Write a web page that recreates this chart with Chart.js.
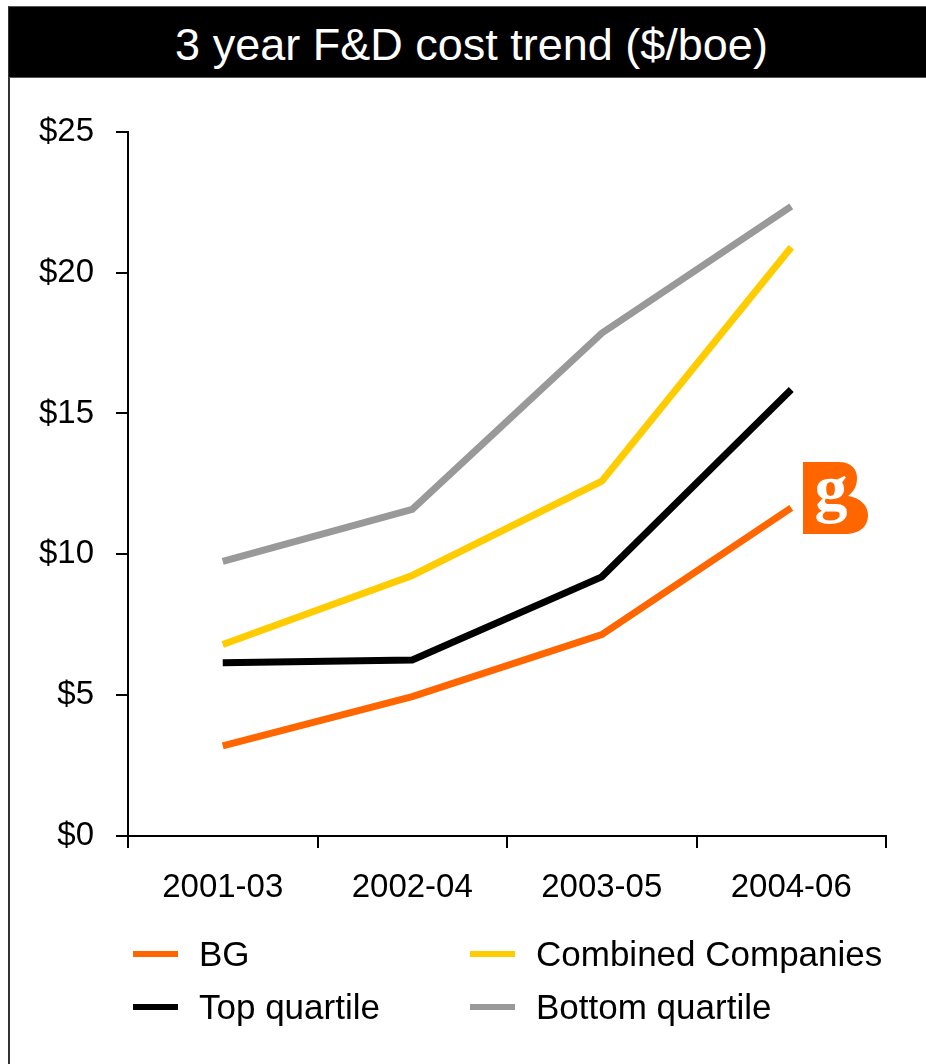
<!DOCTYPE html>
<html>
<head>
<meta charset="utf-8">
<script src="https://cdn.jsdelivr.net/npm/chart.js@4.4.1/dist/chart.umd.min.js"></script>
<style>
  html,body{margin:0;padding:0;background:#fff;}
  #page{position:relative;width:926px;height:1064px;overflow:hidden;font-family:"Liberation Sans",Arial,sans-serif;}
  #lborder{position:absolute;left:8px;top:6px;width:2px;height:1058px;background:#333;}
  #title{position:absolute;left:9px;top:6px;width:917px;height:72px;background:#000;border-top:1px solid #555;border-bottom:1px solid #555;
    color:#fff;font-size:45px;display:flex;align-items:center;justify-content:center;padding-top:6px;padding-left:8px;box-sizing:border-box;}
  #wrap{position:absolute;left:10px;top:90px;width:900px;height:840px;}
  #legend{position:absolute;left:133px;top:927px;display:grid;grid-template-columns:337px auto;grid-auto-rows:53px;}
  .li{display:flex;align-items:center;font-size:35px;color:#000;}
  .sw{width:45px;height:6px;margin-right:21px;}
  #logo{position:absolute;left:803px;top:462px;}
</style>
</head>
<body>
<div id="page">
  <div id="lborder"></div>
  <div id="title">3 year F&amp;D cost trend ($/boe)</div>
  <div id="wrap"><canvas id="ch"></canvas></div>
  <div id="legend"></div>
  <svg id="logo" width="66" height="73" viewBox="0 0 66 73">
    <path d="M0 0 H36 C48 0 54 7 54 16 C54 25 50 30 45 34 C58 36 65 44 65 53 C65 65 56 72 42 72 H0 Z" fill="#FF6600"/>
    <text x="28" y="48" text-anchor="middle" font-family="Liberation Serif" font-weight="bold" font-size="66" fill="#fff">g</text>
  </svg>
</div>
<script>
// data
const periods = ['2001-03','2002-04','2003-05','2004-06'];
const bgCost = [3.2, 4.95, 7.15, 11.65];
const combinedCost = [6.8, 9.25, 12.6, 20.9];
const topQuartile = [6.15, 6.25, 9.2, 15.85];
const bottomQuartile = [9.75, 11.6, 17.85, 22.35];
const yMin = 0, yMax = 25, yStep = 5;

const series = [
  {label:'BG', data:bgCost, c:'#FF6600'},
  {label:'Combined Companies', data:combinedCost, c:'#FFCC00'},
  {label:'Top quartile', data:topQuartile, c:'#000000'},
  {label:'Bottom quartile', data:bottomQuartile, c:'#999999'},
];

const FONT = {family:'"Liberation Sans", Arial, sans-serif', size:33};

new Chart(document.getElementById('ch'), {
  type:'line',
  data:{
    labels:periods,
    datasets:series.map(s=>({
      label:s.label, data:s.data, borderColor:s.c, backgroundColor:s.c,
      borderWidth:7, pointRadius:0, tension:0, borderCapStyle:'butt', borderJoinStyle:'miter'
    }))
  },
  options:{
    responsive:true, maintainAspectRatio:false, animation:false,
    layout:{padding:{left:0, top:40, right:24, bottom:0}},
    plugins:{legend:{display:false}, tooltip:{enabled:false}},
    scales:{
      x:{
        offset:true,
        grid:{offset:true, drawOnChartArea:false, drawTicks:true, tickLength:12, color:'#000', lineWidth:2},
        border:{color:'#000', width:2},
        ticks:{font:FONT, color:'#000', padding:20, maxRotation:0},
        afterFit:s=>{ s.height = 94; }
      },
      y:{
        min:yMin, max:yMax,
        grid:{drawOnChartArea:false, drawTicks:true, tickLength:12, color:'#000', lineWidth:2},
        border:{color:'#000', width:2},
        ticks:{stepSize:yStep, font:FONT, color:'#000', padding:22, callback:v=>'$'+v},
        afterFit:s=>{ s.width = 118; }
      }
    }
  }
});

// legend, two columns
const lg = document.getElementById('legend');
series.forEach(s=>{
  lg.innerHTML += `<div class="li"><div class="sw" style="background:${s.c}"></div>${s.label}</div>`;
});
</script>
</body>
</html>
